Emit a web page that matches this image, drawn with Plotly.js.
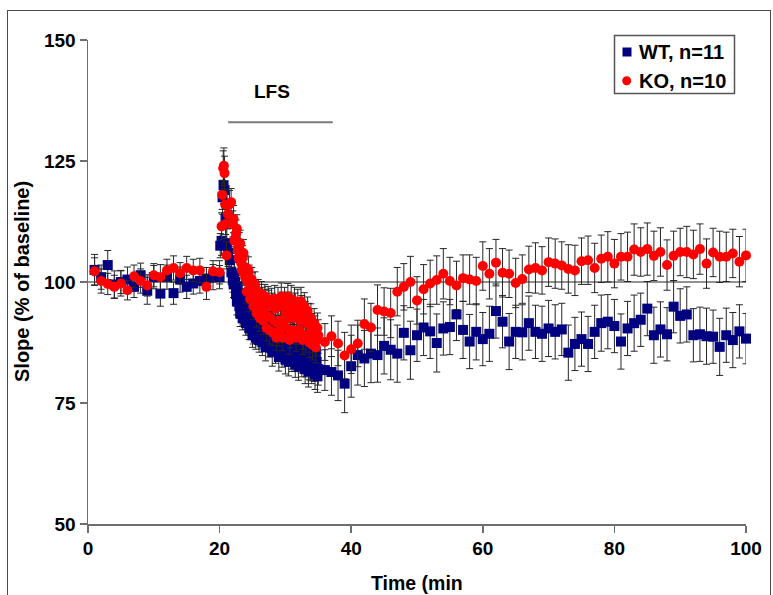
<!DOCTYPE html>
<html>
<head>
<meta charset="utf-8">
<script src="https://cdn.plot.ly/plotly-3.0.1.min.js"></script>
<style>
  html, body { margin: 0; padding: 0; background: #fff; }
  #wrap { position: relative; width: 773px; height: 595px; overflow: hidden; }
  #chart { position: absolute; left: 0; top: 0; width: 773px; height: 595px; }
  #frame { position: absolute; left: 7px; top: 10px; width: 764px; height: 620px;
           border: 1.5px solid #4a4a4a; box-sizing: border-box; pointer-events: none; }
</style>
</head>
<body>
<div id="wrap">
  <div id="chart"></div>
  <div id="frame"></div>
</div>
<script>
// ---------------- DATA ----------------
const seriesNames = ["WT, n=11", "KO, n=10"];

// Baseline period (1-min sampling)
const baseTime = [1,2,3,4,5,6,7,8,9,10,11,12,13,14,15,16,17,18,19,20];
const wtBase   = [102.5,101,103.5,99.5,100,100.5,99,101.4,98.2,101,97.6,101,97.7,100.5,99,99.7,100.2,100.7,101,101];
const wtBaseErr= [3.2,2.5,3.0,2.8,2.4,2.6,2.2,2.5,2.8,2.4,2.6,2.5,2.3,2.6,2.4,2.2,2.5,2.3,2.6,2.4];
const koBase   = [102.2,100.2,99.6,99,99.7,98.3,101.2,100.2,99.3,101.4,101,102.4,102.9,101.8,102.9,102.4,102.4,99,102.2,102];
const koBaseErr= [2.8,2.5,2.2,2.4,2.6,2.0,2.3,2.5,2.2,2.4,2.6,2.3,2.5,2.2,2.4,2.3,2.5,2.6,2.2,2.4];

// LFS period (dense sampling), first set of sweeps
const wtLfsTime = [20.1,20.3,20.45,20.6,20.75,20.9,21.1,21.3,21.55,21.8,22.0,
  22.25,22.5,22.75,23.0,23.25,23.5,23.75,24.0,24.25,24.5,24.75,25.0,25.25,25.5,25.75,26.0,
  26.25,26.5,26.75,27.0,27.25,27.5,27.75,28.0,28.25,28.5,28.75,29.0,29.25,29.5,29.75,30.0,
  30.25,30.5,30.75,31.0,31.25,31.5,31.75,32.0,32.25,32.5,32.75,33.0,33.25,33.5,33.75,34.0,
  34.25,34.5,34.75,35.0];
const wtLfs = [107.5,108.5,117.5,120,119,113,108,106,104.5,102,100.5,
  101.5,97.5,99,95,97,92.5,95.5,91.5,94,90.5,93.5,89,92.5,88.5,91,88,
  92,87.5,90.5,86.5,91,87,89.5,85.5,90,86,88.5,84.5,89.5,85,87.5,84,
  88.5,83.5,87,84.5,88,83,86.5,82.5,87,83.5,85.5,82,86,81.5,84.5,82,
  85,81,83.5,82];
const wtLfsErr = [2.5,3.0,3.5,3.8,3.5,3.2,3.0,2.8,2.8,2.6,2.6,
  2.6,2.5,2.7,2.5,2.6,2.4,2.8,2.5,2.6,2.4,2.7,2.5,2.6,2.4,2.8,2.5,
  2.6,2.7,2.5,2.8,2.6,2.5,2.7,2.9,2.6,2.8,2.5,2.9,2.7,2.6,2.8,3.0,
  2.7,2.9,2.6,3.0,2.8,2.7,3.0,2.8,2.9,3.1,2.8,3.0,2.9,3.2,2.8,3.0,
  3.1,3.2,2.9,3.3];

const koLfsTime = [20.3,20.4,20.55,20.65,20.75,20.85,20.95,21.05,21.25,21.5,21.75,22.0,
  22.25,22.5,22.75,23.0,23.25,23.5,23.75,24.0,24.25,24.5,24.75,25.0,25.25,25.5,25.75,26.0,
  26.25,26.5,26.75,27.0,27.25,27.5,27.75,28.0,28.25,28.5,28.75,29.0,29.25,29.5,29.75,30.0,
  30.25,30.5,30.75,31.0,31.25,31.5,31.75,32.0,32.25,32.5,32.75,33.0,33.25,33.5,33.75,34.0,
  34.25,34.5,34.75,35.0];
const koLfs = [111.5,118,123.5,124,122.5,116,112,105.5,114,116,116.5,112,
  108.5,110,106.5,107.5,104,105,102,103,100,101,98.5,99.5,97,98,95.5,97,
  94.5,96.5,94,96,93,95.5,92.5,95,92,94.5,91.5,89.5,92,95,91,93.5,
  92.5,95,89,94,92.5,95,90,94,92,94.5,89,93,91.5,92.5,89.5,90.5,
  88.5,90,88,89];
const koLfsErr = [2.8,3.0,3.6,3.7,3.5,3.2,3.0,2.8,3.0,2.9,2.8,2.7,
  2.6,2.8,2.5,2.7,2.6,2.5,2.7,2.4,2.6,2.5,2.7,2.4,2.6,2.5,2.7,2.5,
  2.6,2.4,2.7,2.5,2.6,2.8,2.5,2.7,2.6,2.8,2.5,2.7,2.6,2.9,2.6,2.8,
  2.7,2.9,2.6,2.8,3.0,2.7,2.9,2.8,3.0,2.7,2.9,3.0,2.8,3.1,2.9,3.0,
  3.2,3.0,3.3,3.2];

// LFS period, interleaved sweeps (shared time points)
const lfsTime2 = [22.125,22.375,22.625,22.875,23.125,23.375,23.625,23.875,24.125,24.375,24.625,24.875,
  25.125,25.375,25.625,25.875,26.125,26.375,26.625,26.875,27.125,27.375,27.625,27.875,
  28.125,28.375,28.625,28.875,29.125,29.375,29.625,29.875,30.125,30.375,30.625,30.875,
  31.125,31.375,31.625,31.875,32.125,32.375,32.625,32.875,33.125,33.375,33.625,33.875,
  34.125,34.375,34.625,34.875];
const wtLfs2 = [99.5,100,96,97.5,93.5,96,94,93,95.5,92,91.5,94.5,
  90,93.5,90,89.5,93,89,92,88.5,89,92.5,88,87.5,
  91.5,87.5,90.5,86.5,87.5,90.5,86.5,86,89.5,85.5,88.5,85,
  86,89,84.5,85,88,84,87.5,84,83.5,87,83,82.5,
  86,82.5,85.5,80.5];
const wtLfs2Err = [2.7,2.6,2.8,2.5,2.7,2.6,2.5,2.8,2.6,2.7,2.5,2.6,
  2.8,2.6,2.7,2.5,2.6,2.8,2.7,2.6,2.9,2.7,2.6,2.8,
  2.7,2.9,2.6,2.8,2.7,2.9,2.8,3.0,2.7,2.9,2.8,3.0,
  2.9,2.8,3.0,2.9,3.1,2.8,3.0,2.9,3.1,3.0,3.2,2.9,
  3.1,3.0,3.2,3.3];
const koLfs2 = [113,109,111,105,108,102.5,106,101,98,102.5,96.5,100.5,
  95,99.5,93.5,98,92.5,97.5,92,97,90.5,96.5,90,96,
  89.5,96.5,88.5,96,90,97,88.5,96,90.5,97,88,96.5,
  90,96,88.5,95.5,90,96,88,95,88.5,94,87.5,92.5,
  87,91.5,86.5,90.5];
const koLfs2Err = [2.8,2.7,2.9,2.6,2.7,2.5,2.8,2.6,2.5,2.7,2.6,2.5,
  2.7,2.6,2.8,2.5,2.7,2.6,2.8,2.5,2.7,2.6,2.8,2.7,
  2.6,2.8,2.7,2.9,2.6,2.8,2.7,2.9,2.8,2.7,2.9,2.8,
  2.7,2.9,2.8,3.0,2.8,2.9,3.0,2.8,3.0,2.9,3.1,3.0,
  3.1,3.0,3.2,3.1];

// Post-LFS period (1-min sampling)
const postTime = [36,37,38,39,40,41,42,43,44,45,46,47,48,49,50,51,52,53,54,55,56,57,58,59,60,
  61,62,63,64,65,66,67,68,69,70,71,72,73,74,75,76,77,78,79,80,81,82,83,84,85,86,87,88,89,90,
  91,92,93,94,95,96,97,98,99,100];
const wtPost = [81.8,81.4,80.7,79.0,82.6,84.9,84.2,85.2,84.9,86.8,86,85.2,89.5,85.9,89.0,
  90.6,89.8,87.4,90.4,90.7,93.3,90.1,87.7,89.7,88.2,89.3,94,91.8,87.7,89.7,89.6,91.5,89.7,
  89.3,90.4,89.7,90.2,85.4,87.2,88.2,87.2,89.7,91.5,91.8,90.9,87.7,90.4,91.5,92.2,94.5,89.0,
  90.2,89.2,94.9,93.0,93.3,89,89.2,88.8,88.7,86.6,89,88,89.8,88.3];
const wtPostErr = [4.2,4.8,5.2,6.0,6.4,6.2,5.8,6.0,5.6,5.8,6.2,5.9,5.6,6.0,5.4,5.8,5.6,6.0,
  5.5,5.7,5.4,5.9,5.6,5.8,5.5,5.7,5.6,5.4,5.8,5.5,5.7,5.6,5.5,5.7,5.8,5.6,5.4,5.7,5.5,5.6,
  5.7,5.5,5.8,5.6,5.5,5.7,5.6,5.8,5.5,5.6,5.8,5.7,5.5,5.4,5.6,5.7,5.5,5.6,5.8,5.5,5.9,5.6,
  5.7,5.5,5.2];
const koPost = [87.6,88.8,87.3,84.8,86.1,87.3,91.3,90.6,94.2,93.9,93.6,98.0,99,100,96.2,
  98.5,99.7,100.4,101.7,100.2,99.3,100.8,100.5,100.2,103.3,101.7,104,101.9,101.7,99.8,100.6,
  102.6,102.9,102.4,104.1,103.8,103.4,102.7,102.4,104.3,104.5,102.9,104.8,105.2,103.8,105.2,
  105.2,106.7,106.2,106.8,105.4,106.2,103.5,105.4,106.2,106.2,105.7,106.8,103.8,106.1,105.2,
  105.2,105.9,104.2,105.5];
const koPostErr = [3.8,4.2,4.6,4.8,5.0,4.8,5.2,5.0,5.2,4.9,5.1,5.0,4.8,5.3,4.9,5.1,4.8,5.0,
  5.2,4.9,5.0,4.8,5.1,4.9,5.0,5.2,4.8,5.0,4.9,5.1,5.0,4.8,5.2,4.9,5.0,5.1,4.9,5.0,5.2,4.8,
  5.0,5.1,4.9,5.2,5.0,4.8,5.1,5.3,5.0,5.4,5.1,5.0,5.2,5.1,4.9,5.3,5.0,5.2,5.1,5.0,5.3,5.1,
  5.0,5.2,5.4];

const xTicks = [0,20,40,60,80,100];
const yTicks = [50,75,100,125,150];

// ---------------- BUILD ----------------
const FONT = 'Arial, "Liberation Sans", sans-serif';
const wtX = baseTime.concat(wtLfsTime, lfsTime2, postTime);
const wtY = wtBase.concat(wtLfs, wtLfs2, wtPost);
const wtE = wtBaseErr.concat(wtLfsErr, wtLfs2Err, wtPostErr);
const koX = baseTime.concat(koLfsTime, lfsTime2, postTime);
const koY = koBase.concat(koLfs, koLfs2, koPost);
const koE = koBaseErr.concat(koLfsErr, koLfs2Err, koPostErr);

const errStyle = (arr) => ({type:'data', array: arr, visible:true, color:'#262626', thickness:1, width:3.5});

const traces = [
  {x: wtX, y: wtY, name: seriesNames[0], type:'scatter', mode:'markers', cliponaxis:false,
   marker:{symbol:'square', size:10, color:'#000080'}, error_y: errStyle(wtE)},
  {x: koX, y: koY, name: seriesNames[1], type:'scatter', mode:'markers', cliponaxis:false,
   marker:{symbol:'circle', size:10, color:'#ff0000'}, error_y: errStyle(koE)}
];

// plot area in pixels: l=88, t=40, w=658, h=484
const L = 88, T = 40, W = 658, H = 484;
const px = (p) => (p - L) / W;
const py = (p) => (T + H - p) / H;

const layout = {
  width: 773, height: 595,
  margin: {l: L, r: 773 - L - W, t: T, b: 595 - T - H, pad: 0},
  paper_bgcolor: 'rgba(0,0,0,0)', plot_bgcolor: '#fff',
  showlegend: false,
  font: {family: FONT, size: 19, color: '#000', weight: 'bold'},
  xaxis: {range: [0, 100], tickvals: xTicks, ticktext: xTicks.map(String),
          showline: true, linecolor: '#6e6e6e', linewidth: 1.5, showgrid: false, zeroline: false,
          ticks: 'outside', ticklen: 7, tickwidth: 1.5, tickcolor: '#6e6e6e',
          tickfont: {family: FONT, size: 19, weight: 'bold', color: '#000'}},
  yaxis: {range: [50, 150], tickvals: yTicks, ticktext: yTicks.map(String),
          showline: true, linecolor: '#6e6e6e', linewidth: 1.5, showgrid: false, zeroline: false,
          ticks: 'outside', ticklen: 7, tickwidth: 1.5, tickcolor: '#6e6e6e',
          tickfont: {family: FONT, size: 19, weight: 'bold', color: '#000'}},
  shapes: [
    {type:'line', xref:'x', yref:'y', x0:0, x1:100, y0:100, y1:100, layer:'below',
     line:{color:'#6e6e6e', width:1.5}},
    {type:'line', xref:'x', yref:'y', x0:21.3, x1:37.2, y0:133, y1:133,
     line:{color:'#7a7a7a', width:2}},
    // legend box
    {type:'rect', xref:'paper', yref:'paper', x0:px(614.5), x1:px(734.5), y0:py(93.5), y1:py(35.5),
     line:{color:'#555', width:1.5}, fillcolor:'#fff'},
    {type:'rect', xref:'paper', yref:'paper', x0:px(622.5), x1:px(631.5), y0:py(56.5), y1:py(47.5),
     line:{width:0}, fillcolor:'#000080'},
    {type:'circle', xref:'paper', yref:'paper', x0:px(622.2), x1:px(631.2), y0:py(85.2), y1:py(76.2),
     line:{width:0}, fillcolor:'#ff0000'}
  ],
  annotations: [
    {text:'LFS', xref:'x', yref:'y', x:28, y:139.4, showarrow:false,
     font:{family:FONT, size:19, weight:'bold', color:'#000'}},
    {text: seriesNames[0], xref:'paper', yref:'paper', x:px(637), y:py(52), xanchor:'left', yanchor:'middle',
     showarrow:false, font:{family:FONT, size:20, weight:'bold', color:'#000'}},
    {text: seriesNames[1], xref:'paper', yref:'paper', x:px(637), y:py(80.7), xanchor:'left', yanchor:'middle',
     showarrow:false, font:{family:FONT, size:20, weight:'bold', color:'#000'}},
    {text:'Time (min', xref:'paper', yref:'paper', x:0.5, y:py(583), xanchor:'center', yanchor:'middle',
     showarrow:false, font:{family:FONT, size:19.5, weight:'bold', color:'#000'}},
    {text:'Slope (% of baseline)', xref:'paper', yref:'paper', x:px(22), y:0.5, textangle:-90,
     xanchor:'center', yanchor:'middle', showarrow:false,
     font:{family:FONT, size:20, weight:'bold', color:'#000'}}
  ]
};

Plotly.newPlot('chart', traces, layout, {staticPlot: true, displayModeBar: false});
</script>
</body>
</html>
